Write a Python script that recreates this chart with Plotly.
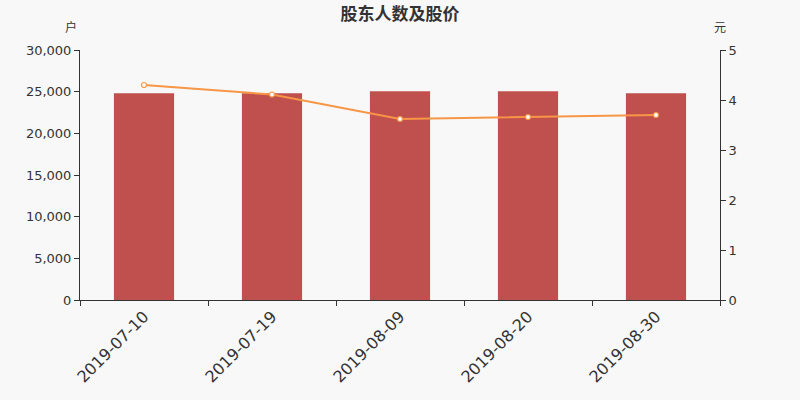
import plotly.graph_objects as go

dates = ["2019-07-10", "2019-07-19", "2019-08-09", "2019-08-20", "2019-08-30"]
holders = [24800, 24800, 25050, 25050, 24800]
prices = [4.30, 4.11, 3.62, 3.66, 3.70]

font_family = "DejaVu Sans, Noto Sans CJK SC"

fig = go.Figure()
fig.add_trace(go.Bar(
    x=dates, y=holders, name="股东人数",
    marker=dict(color="#c0504d", line=dict(width=0)),
    width=0.47,
))
fig.add_trace(go.Scatter(
    x=dates, y=prices, name="股价", yaxis="y2",
    mode="lines+markers",
    line=dict(color="#f79646", width=2),
    marker=dict(size=5, color="#ffffff", line=dict(color="#f79646", width=1.2)),
))

fig.update_layout(
    width=800, height=400,
    paper_bgcolor="#f8f8f8", plot_bgcolor="#f8f8f8",
    margin=dict(l=80, r=80, t=50, b=100, autoexpand=False),
    showlegend=False,
    font=dict(family=font_family, color="#333333", size=12),
    title=dict(text="<b>股东人数及股价</b>", x=0.5, xanchor="center", y=0.965, yanchor="middle",
               font=dict(size=17, color="#333333", family="Noto Sans CJK SC")),
    xaxis=dict(
        type="category", showgrid=False, showline=True, linecolor="#333333",
        ticks="outside", tickson="boundaries", ticklen=5, tickcolor="#333333",
        tickangle=-45, tickfont=dict(size=16, color="#333333"), automargin=False,
    ),
    yaxis=dict(
        range=[0, 30000], dtick=5000, tickformat=",", showgrid=False,
        showline=True, linecolor="#333333", ticks="outside", ticklen=5,
        tickcolor="#333333", zeroline=False, tickfont=dict(size=13), automargin=False,
    ),
    yaxis2=dict(
        range=[0, 5], dtick=1, overlaying="y", side="right", showgrid=False,
        showline=True, linecolor="#333333", ticks="outside", ticklen=5,
        tickcolor="#333333", zeroline=False, tickfont=dict(size=13), automargin=False,
    ),
    annotations=[
        dict(text="户", x=0, xref="paper", xanchor="right", xshift=-1, y=1, yref="paper",
             yanchor="bottom", yshift=13, showarrow=False, font=dict(size=12, family="Noto Sans CJK SC")),
        dict(text="元", x=1, xref="paper", xanchor="left", xshift=-8, y=1, yref="paper",
             yanchor="bottom", yshift=13, showarrow=False, font=dict(size=12, family="Noto Sans CJK SC")),
    ],
)

fig.write_html(
    "out.html",
    config={"displayModeBar": False},
    post_script="document.body.style.margin='0';document.body.style.background='#f8f8f8';",
)
